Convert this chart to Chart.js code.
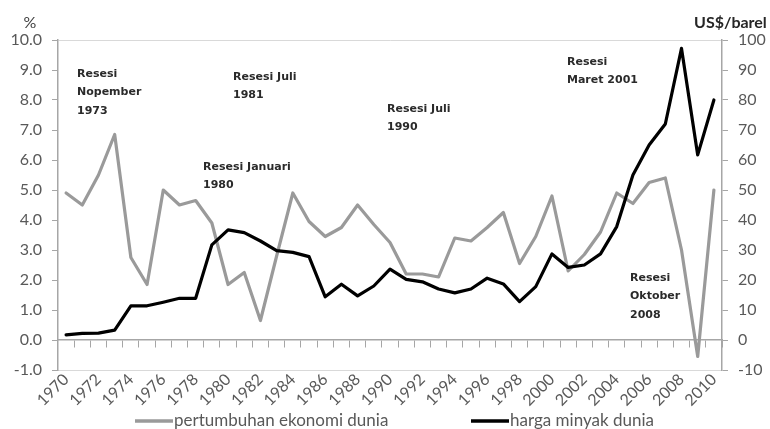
<!DOCTYPE html>
<html>
<head>
<meta charset="utf-8">
<script src="https://cdn.jsdelivr.net/npm/chart.js@4"></script>
<style>
  html, body { margin: 0; padding: 0; background: #fff; }
  canvas { display: block; }
</style>
</head>
<body>
<canvas id="chart" width="770" height="429"></canvas>
<script>
const years = ["1970", "1971", "1972", "1973", "1974", "1975", "1976", "1977", "1978", "1979",
    "1980", "1981", "1982", "1983", "1984", "1985", "1986", "1987", "1988", "1989",
    "1990", "1991", "1992", "1993", "1994", "1995", "1996", "1997", "1998", "1999",
    "2000", "2001", "2002", "2003", "2004", "2005", "2006", "2007", "2008", "2009", "2010"];

// pertumbuhan ekonomi dunia (%), left axis
const growth = [4.9, 4.5, 5.5, 6.85, 2.75, 1.85, 5.0, 4.5, 4.65, 3.9,
    1.85, 2.25, 0.65, 2.8, 4.9, 3.95, 3.45, 3.75, 4.5, 3.85,
    3.25, 2.2, 2.2, 2.1, 3.4, 3.3, 3.75, 4.25, 2.55, 3.45,
    4.8, 2.3, 2.85, 3.6, 4.9, 4.55, 5.25, 5.4, 3.0, -0.55, 5.0];

// harga minyak dunia (US$/barel), right axis
const oil = [1.7, 2.2, 2.3, 3.3, 11.4, 11.4, 12.6, 13.9, 13.9, 31.7,
    36.7, 35.8, 33, 29.8, 29.2, 27.8, 14.4, 18.6, 14.7, 18,
    23.6, 20.2, 19.4, 17, 15.7, 17, 20.6, 18.7, 12.8, 17.8,
    28.7, 24.2, 25, 28.7, 37.8, 55, 65, 72, 97.2, 61.7, 80];

const seriesNames = ["pertumbuhan ekonomi dunia", "harga minyak dunia"];
const leftTitle = "%";
const rightTitle = "US$/barel";

const notes = [
    { lines: ["Resesi", "Nopember", "1973"], x: 77, y: 74 },
    { lines: ["Resesi Juli", "1981"], x: 233, y: 77 },
    { lines: ["Resesi Juli", "1990"], x: 387, y: 109 },
    { lines: ["Resesi Januari", "1980"], x: 203, y: 167 },
    { lines: ["Resesi", "Maret 2001"], x: 567, y: 62 },
    { lines: ["Resesi", "Oktober", "2008"], x: 630, y: 278 }
];

const axisGrey = "#a6a6a6";
const labelGrey = "#595959";

const extras = {
    id: "extras",
    afterDraw(chart) {
        const ctx = chart.ctx;
        ctx.save();
        // axis titles
        ctx.textBaseline = "middle";
        ctx.textAlign = "center";
        ctx.fillStyle = "#404040";
        ctx.font = "16px Lato";
        ctx.fillText(leftTitle, 30, 23);
        ctx.textAlign = "left";
        ctx.fillStyle = "#262626";
        ctx.font = "bold 16px Lato";
        ctx.fillText(rightTitle, 694, 23);

        // recession notes
        ctx.fillStyle = "#2a2a2a";
        ctx.font = "bold 11px 'DejaVu Sans'";
        notes.forEach(n => {
            n.lines.forEach((t, i) => ctx.fillText(t, n.x, n.y + i * 18.5));
        });

        // legend
        const ly = 421;
        const items = [
            { ds: chart.data.datasets[1], x: 135 },
            { ds: chart.data.datasets[0], x: 471 }
        ];
        ctx.font = "17px Lato";
        items.forEach(it => {
            ctx.strokeStyle = it.ds.borderColor;
            ctx.lineWidth = 3.5;
            ctx.lineCap = "butt";
            ctx.beginPath();
            ctx.moveTo(it.x, ly);
            ctx.lineTo(it.x + 38, ly);
            ctx.stroke();
            ctx.fillStyle = labelGrey;
            ctx.fillText(it.ds.label, it.x + 39, ly);
        });
        ctx.restore();
    }
};

new Chart(document.getElementById("chart"), {
    type: "line",
    data: {
        labels: years,
        datasets: [{
            label: seriesNames[1],
            data: oil,
            yAxisID: "y1",
            borderColor: "#000000",
            borderWidth: 3.2,
            order: 0
        }, {
            label: seriesNames[0],
            data: growth,
            yAxisID: "y",
            borderColor: "#9a9a9a",
            borderWidth: 3.2,
            order: 1
        }]
    },
    options: {
        responsive: false,
        animation: false,
        devicePixelRatio: 1,
        layout: { padding: { top: 40, left: 0, right: 0, bottom: 0 } },
        elements: {
            point: { radius: 0 },
            line: { tension: 0, borderJoinStyle: "round", borderCapStyle: "round", fill: false }
        },
        plugins: { legend: { display: false }, tooltip: { enabled: false } },
        scales: {
            x: {
                type: "category",
                offset: true,
                afterFit: s => { s.height = 59; },
                grid: { display: true, drawOnChartArea: false, drawTicks: false },
                border: { display: true, color: "#d9d9d9", width: 1 },
                ticks: {
                    autoSkip: false,
                    minRotation: 45,
                    maxRotation: 45,
                    padding: 0,
                    color: labelGrey,
                    font: { family: "Lato", size: 16 },
                    callback: function (v, i) { return i % 2 === 0 ? this.getLabelForValue(v) : ""; }
                }
            },
            x2: {
                type: "category",
                axis: "x",
                offset: true,
                position: { y: 0 },
                afterFit: s => { s.height = 0; },
                grid: { drawOnChartArea: false, drawTicks: true, tickLength: 7, tickColor: axisGrey, offset: true },
                border: { display: true, color: axisGrey, width: 1.5 },
                ticks: { display: false }
            },
            y: {
                position: "left",
                min: -1,
                max: 10,
                afterFit: s => { s.width = 58; },
                grid: {
                    color: c => c.tick && c.tick.value === 10 ? "#d9d9d9" : "rgba(0,0,0,0)",
                    tickColor: axisGrey,
                    tickLength: 6
                },
                border: { display: true, color: axisGrey, width: 1.5 },
                ticks: {
                    stepSize: 1,
                    padding: 10,
                    color: labelGrey,
                    font: { family: "Lato", size: 16 },
                    callback: v => v.toFixed(1)
                }
            },
            y1: {
                position: "right",
                min: -10,
                max: 100,
                afterFit: s => { s.width = 48; },
                grid: { drawOnChartArea: false, tickColor: axisGrey, tickLength: 6 },
                border: { display: true, color: axisGrey, width: 1.5 },
                ticks: {
                    stepSize: 10,
                    padding: 10,
                    color: labelGrey,
                    font: { family: "Lato", size: 16 }
                }
            }
        }
    },
    plugins: [extras]
});
</script>
</body>
</html>
